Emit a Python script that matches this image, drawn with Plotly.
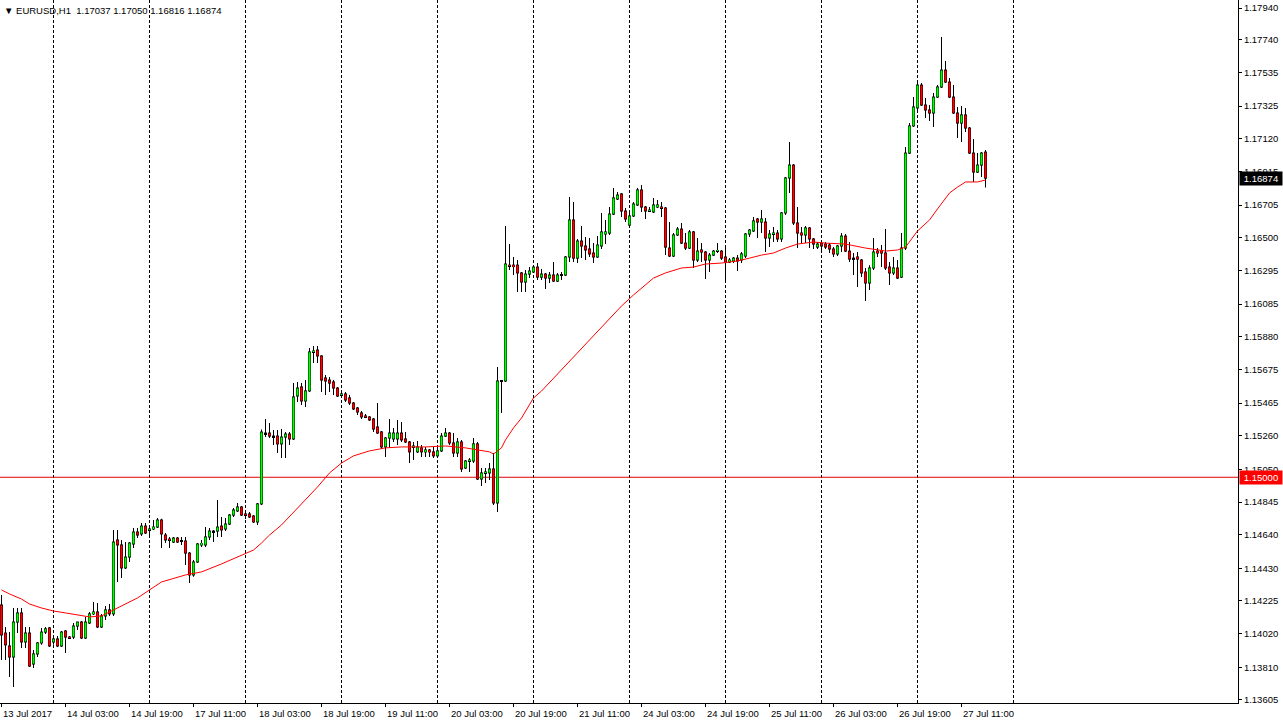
import plotly.graph_objects as go

# ---------------- data (EURUSD H1) ----------------
opens = [1.14200,1.14024,1.13943,1.13874,1.14093,1.14150,1.13968,1.14024,1.13830,1.13893,
1.13962,1.14030,1.14056,1.13968,1.13987,1.13943,1.14037,1.13999,1.13999,1.14068,
1.14093,1.13993,1.14087,1.14144,1.14156,1.14062,1.14131,1.14169,1.14144,1.14607,
1.14576,1.14432,1.14500,1.14582,1.14657,1.14645,1.14694,1.14670,1.14676,1.14688,
1.14732,1.14638,1.14613,1.14594,1.14619,1.14601,1.14601,1.14525,1.14388,1.14469,
1.14576,1.14576,1.14626,1.14663,1.14663,1.14694,1.14676,1.14707,1.14763,1.14789,
1.14814,1.14770,1.14770,1.14757,1.14720,1.14833,1.15277,1.15277,1.15258,1.15258,
1.15209,1.15252,1.15271,1.15240,1.15509,1.15566,1.15478,1.15541,1.15785,1.15797,
1.15760,1.15622,1.15609,1.15597,1.15559,1.15516,1.15522,1.15497,1.15465,1.15434,
1.15403,1.15384,1.15378,1.15365,1.15315,1.15284,1.15190,1.15246,1.15240,1.15240,
1.15277,1.15240,1.15221,1.15190,1.15159,1.15184,1.15159,1.15171,1.15159,1.15134,
1.15165,1.15258,1.15277,1.15215,1.15152,1.15221,1.15058,1.15102,1.15102,1.15209,
1.14989,1.15027,1.15027,1.15052,1.14839,1.15603,1.15603,1.16329,1.16329,1.16329,
1.16280,1.16223,1.16273,1.16286,1.16317,1.16254,1.16273,1.16248,1.16267,1.16229,
1.16267,1.16267,1.16380,1.16612,1.16373,1.16480,1.16449,1.16430,1.16405,1.16380,
1.16449,1.16524,1.16530,1.16649,1.16743,1.16775,1.16668,1.16580,1.16637,1.16706,
1.16800,1.16693,1.16668,1.16662,1.16693,1.16693,1.16687,1.16436,1.16386,1.16518,
1.16555,1.16467,1.16436,1.16537,1.16361,1.16424,1.16411,1.16361,1.16392,1.16417,
1.16417,1.16380,1.16348,1.16355,1.16373,1.16361,1.16386,1.16524,1.16543,1.16618,
1.16599,1.16599,1.16499,1.16524,1.16530,1.16493,1.16656,1.16875,1.16956,1.16593,
1.16530,1.16518,1.16562,1.16493,1.16442,1.16467,1.16461,1.16455,1.16430,1.16399,
1.16449,1.16511,1.16417,1.16373,1.16380,1.16361,1.16286,1.16217,1.16311,1.16417,
1.16417,1.16405,1.16317,1.16280,1.16311,1.16254,1.16436,1.17031,1.17201,1.17314,
1.17457,1.17332,1.17301,1.17282,1.17382,1.17445,1.17551,1.17476,1.17382,1.17282,
1.17219,1.17270,1.17188,1.17031,1.16912,1.16956,1.17037]

highs = [1.14263,1.14062,1.14030,1.14181,1.14181,1.14181,1.14062,1.14062,1.13918,1.13968,
1.14056,1.14062,1.14062,1.13999,1.14006,1.14037,1.14043,1.14006,1.14087,1.14093,
1.14100,1.14125,1.14156,1.14218,1.14212,1.14144,1.14193,1.14206,1.14670,1.14670,
1.14607,1.14594,1.14594,1.14682,1.14682,1.14713,1.14713,1.14701,1.14732,1.14745,
1.14740,1.14651,1.14626,1.14626,1.14626,1.14626,1.14626,1.14532,1.14482,1.14588,
1.14607,1.14688,1.14682,1.14670,1.14858,1.14751,1.14745,1.14770,1.14807,1.14839,
1.14820,1.14782,1.14782,1.14763,1.14839,1.15300,1.15365,1.15340,1.15296,1.15296,
1.15302,1.15284,1.15284,1.15590,1.15597,1.15590,1.15609,1.15810,1.15822,1.15822,
1.15765,1.15641,1.15628,1.15609,1.15566,1.15534,1.15534,1.15516,1.15472,1.15440,
1.15415,1.15396,1.15382,1.15371,1.15465,1.15290,1.15252,1.15365,1.15309,1.15359,
1.15346,1.15284,1.15227,1.15221,1.15227,1.15202,1.15190,1.15177,1.15190,1.15190,
1.15277,1.15309,1.15284,1.15277,1.15246,1.15234,1.15108,1.15121,1.15246,1.15221,
1.15058,1.15058,1.15089,1.15152,1.15691,1.15609,1.16574,1.16461,1.16380,1.16361,
1.16286,1.16298,1.16317,1.16323,1.16342,1.16304,1.16280,1.16286,1.16348,1.16280,
1.16286,1.16386,1.16756,1.16724,1.16493,1.16574,1.16505,1.16499,1.16467,1.16511,
1.16656,1.16612,1.16693,1.16812,1.16787,1.16781,1.16687,1.16656,1.16724,1.16812,
1.16831,1.16699,1.16693,1.16749,1.16737,1.16724,1.16693,1.16599,1.16530,1.16568,
1.16593,1.16530,1.16549,1.16543,1.16499,1.16467,1.16417,1.16405,1.16424,1.16467,
1.16424,1.16436,1.16373,1.16380,1.16392,1.16411,1.16530,1.16555,1.16631,1.16624,
1.16674,1.16624,1.16549,1.16568,1.16549,1.16662,1.16881,1.17101,1.16962,1.16693,
1.16568,1.16574,1.16568,1.16499,1.16474,1.16474,1.16474,1.16467,1.16442,1.16455,
1.16530,1.16524,1.16474,1.16405,1.16411,1.16367,1.16311,1.16329,1.16499,1.16436,
1.16455,1.16555,1.16348,1.16380,1.16361,1.16530,1.17069,1.17219,1.17382,1.17470,
1.17470,1.17376,1.17332,1.17407,1.17457,1.17758,1.17608,1.17501,1.17457,1.17320,
1.17326,1.17314,1.17194,1.17119,1.17031,1.17038,1.17050]

lows = [1.13855,1.13855,1.13749,1.13686,1.14024,1.13931,1.13931,1.13811,1.13805,1.13874,
1.13950,1.14018,1.13937,1.13950,1.13937,1.13937,1.13899,1.13993,1.13987,1.14043,
1.13987,1.13987,1.14081,1.14137,1.14056,1.14056,1.14106,1.14131,1.14131,1.14344,
1.14369,1.14426,1.14469,1.14557,1.14619,1.14632,1.14645,1.14638,1.14670,1.14682,
1.14557,1.14588,1.14557,1.14588,1.14588,1.14576,1.14451,1.14338,1.14376,1.14463,
1.14563,1.14563,1.14607,1.14594,1.14626,1.14626,1.14663,1.14701,1.14751,1.14782,
1.14757,1.14738,1.14745,1.14713,1.14701,1.14826,1.15252,1.15246,1.15202,1.15152,
1.15121,1.15121,1.15202,1.15234,1.15472,1.15453,1.15440,1.15534,1.15716,1.15716,
1.15534,1.15516,1.15534,1.15516,1.15503,1.15503,1.15472,1.15453,1.15421,1.15390,
1.15365,1.15371,1.15353,1.15284,1.15271,1.15177,1.15127,1.15184,1.15221,1.15202,
1.15221,1.15215,1.15089,1.15108,1.15152,1.15127,1.15127,1.15127,1.15121,1.15121,
1.15159,1.15252,1.15202,1.15127,1.15127,1.15033,1.15052,1.15033,1.15089,1.14983,
1.14946,1.14964,1.14983,1.14826,1.14782,1.15403,1.15597,1.16298,1.16267,1.16161,
1.16161,1.16161,1.16248,1.16280,1.16236,1.16236,1.16180,1.16217,1.16223,1.16223,
1.16236,1.16261,1.16348,1.16348,1.16342,1.16373,1.16361,1.16380,1.16342,1.16375,
1.16430,1.16461,1.16518,1.16643,1.16737,1.16631,1.16599,1.16568,1.16631,1.16699,
1.16662,1.16618,1.16662,1.16655,1.16687,1.16631,1.16392,1.16380,1.16380,1.16511,
1.16461,1.16424,1.16430,1.16311,1.16348,1.16348,1.16242,1.16286,1.16386,1.16405,
1.16361,1.16236,1.16342,1.16342,1.16292,1.16342,1.16373,1.16505,1.16537,1.16499,
1.16530,1.16411,1.16442,1.16474,1.16474,1.16474,1.16643,1.16781,1.16580,1.16436,
1.16467,1.16467,1.16436,1.16430,1.16430,1.16411,1.16430,1.16405,1.16380,1.16386,
1.16411,1.16411,1.16348,1.16267,1.16192,1.16254,1.16104,1.16173,1.16298,1.16380,
1.16317,1.16298,1.16204,1.16267,1.16242,1.16248,1.16424,1.17025,1.17194,1.17301,
1.17326,1.17251,1.17232,1.17194,1.17376,1.17439,1.17470,1.17376,1.17276,1.17126,
1.17101,1.17163,1.17025,1.16850,1.16906,1.16881,1.16816]

closes = [1.14012,1.13950,1.13874,1.14093,1.14150,1.13968,1.14024,1.13817,1.13893,1.13962,
1.14030,1.14050,1.13943,1.13987,1.13943,1.14030,1.13999,1.13995,1.14068,1.14093,
1.13993,1.14093,1.14144,1.14156,1.14062,1.14131,1.14169,1.14144,1.14594,1.14576,
1.14432,1.14500,1.14588,1.14657,1.14638,1.14694,1.14651,1.14676,1.14688,1.14732,
1.14645,1.14607,1.14607,1.14619,1.14594,1.14598,1.14525,1.14388,1.14469,1.14582,
1.14585,1.14626,1.14663,1.14660,1.14688,1.14670,1.14707,1.14763,1.14795,1.14814,
1.14763,1.14765,1.14751,1.14720,1.14833,1.15283,1.15274,1.15258,1.15255,1.15209,
1.15252,1.15271,1.15240,1.15503,1.15559,1.15478,1.15541,1.15785,1.15791,1.15760,
1.15609,1.15603,1.15590,1.15559,1.15509,1.15522,1.15484,1.15465,1.15428,1.15409,
1.15378,1.15380,1.15359,1.15302,1.15277,1.15190,1.15246,1.15277,1.15277,1.15277,
1.15234,1.15221,1.15159,1.15196,1.15190,1.15159,1.15171,1.15159,1.15134,1.15165,
1.15258,1.15277,1.15215,1.15152,1.15221,1.15052,1.15102,1.15108,1.15209,1.14989,
1.15027,1.15033,1.15052,1.14839,1.15603,1.15600,1.16336,1.16323,1.16320,1.16280,
1.16223,1.16273,1.16292,1.16317,1.16254,1.16273,1.16248,1.16267,1.16229,1.16267,
1.16270,1.16380,1.16612,1.16373,1.16480,1.16449,1.16424,1.16399,1.16380,1.16455,
1.16537,1.16537,1.16649,1.16750,1.16768,1.16668,1.16618,1.16637,1.16712,1.16800,
1.16693,1.16668,1.16674,1.16706,1.16706,1.16687,1.16442,1.16386,1.16518,1.16555,
1.16467,1.16436,1.16537,1.16361,1.16417,1.16411,1.16361,1.16392,1.16417,1.16421,
1.16373,1.16348,1.16361,1.16373,1.16355,1.16399,1.16524,1.16549,1.16606,1.16599,
1.16618,1.16499,1.16524,1.16530,1.16493,1.16656,1.16875,1.16956,1.16593,1.16530,
1.16518,1.16562,1.16493,1.16461,1.16461,1.16449,1.16442,1.16430,1.16399,1.16449,
1.16511,1.16417,1.16367,1.16370,1.16367,1.16280,1.16217,1.16311,1.16411,1.16405,
1.16405,1.16311,1.16280,1.16311,1.16248,1.16436,1.17031,1.17201,1.17320,1.17457,
1.17332,1.17301,1.17282,1.17382,1.17445,1.17551,1.17476,1.17382,1.17282,1.17219,
1.17270,1.17188,1.17031,1.16912,1.16956,1.17031,1.16874]

# moving average (red line), read at selected bars
ma_bar = [0,2,5,7,10,13,16,20,22,25,28,31,34,37,40,46,50,55,60,63,65,67,70,73,76,79,82,85,88,92,
          96,100,106,111,116,119,122,123,125,126,128,130,133,135,140,145,150,155,158,160,163,166,
          170,173,176,180,184,187,190,193,196,199,203,206,211,216,221,224,226,229,232,234,237,
          239,241,244,246]
ma_val = [1.14294,1.14269,1.14237,1.14206,1.14181,1.14162,1.14150,1.14131,1.14125,1.14131,
          1.14169,1.14206,1.14244,1.14294,1.14344,1.14388,1.14407,1.14457,1.14513,1.14544,
          1.14588,1.14638,1.14701,1.14782,1.14858,1.14939,1.15027,1.15089,1.15134,1.15165,
          1.15184,1.15190,1.15190,1.15196,1.15184,1.15171,1.15159,1.15146,1.15184,1.15234,
          1.15309,1.15371,1.15497,1.15540,1.15672,1.15804,1.15935,1.16073,1.16142,1.16186,
          1.16248,1.16280,1.16311,1.16317,1.16336,1.16342,1.16355,1.16373,1.16392,1.16405,
          1.16436,1.16461,1.16474,1.16467,1.16461,1.16436,1.16417,1.16424,1.16442,1.16543,
          1.16612,1.16681,1.16781,1.16818,1.16850,1.16850,1.16862]

day_start_bar = [13, 37, 61, 85, 109, 133, 157, 181, 205, 229, 253]
time_label_bar = [0, 16, 32, 48, 64, 80, 96, 112, 128, 144, 160, 176, 192, 208, 224, 240]
time_labels = ["13 Jul 2017", "14 Jul 03:00", "14 Jul 19:00", "17 Jul 11:00", "18 Jul 03:00",
               "18 Jul 19:00", "19 Jul 11:00", "20 Jul 03:00", "20 Jul 19:00", "21 Jul 11:00",
               "24 Jul 03:00", "24 Jul 19:00", "25 Jul 11:00", "26 Jul 03:00", "26 Jul 19:00",
               "27 Jul 11:00"]
price_ticks = [1.17940, 1.17740, 1.17535, 1.17325, 1.17120, 1.16915, 1.16705, 1.16500, 1.16295,
               1.16085, 1.15880, 1.15675, 1.15465, 1.15260, 1.15050, 1.14845, 1.14640, 1.14430,
               1.14225, 1.14020, 1.13810, 1.13605]
level_line = 1.15000
header = "EURUSD,H1  1.17037 1.17050 1.16816 1.16874"

# ---------------- figure ----------------
FONT = "Liberation Sans"
UP, DOWN = "#00ff00", "#ff0000"
Y_RANGE = [1.135857, 1.179901]
PLOT_H = 703
PX = (Y_RANGE[1] - Y_RANGE[0]) / PLOT_H   # price per screen pixel (style constant)

n = len(closes)
bars = list(range(n))

wick_len = [highs[i] - lows[i] for i in bars]
# body outline (black) and coloured inner body, inset by about half a pixel each side
out_base = [min(opens[i], closes[i]) - 0.5 * PX for i in bars]
out_len = [abs(closes[i] - opens[i]) + PX for i in bars]
in_base = [min(opens[i], closes[i]) + 0.3 * PX for i in bars]
in_len = [max(abs(closes[i] - opens[i]) - 0.6 * PX, 0) for i in bars]
in_col = [UP if closes[i] >= opens[i] else DOWN for i in bars]

fig = go.Figure()
# all candle parts live in the bar layer, drawn in this order
fig.add_trace(go.Bar(x=bars, y=wick_len, base=lows, width=0.25,
                     marker=dict(color="black", line=dict(width=0)),
                     showlegend=False, hoverinfo="skip"))
fig.add_trace(go.Bar(x=bars, y=out_len, base=out_base, width=0.75,
                     marker=dict(color="black", line=dict(width=0)),
                     showlegend=False, hoverinfo="skip"))
fig.add_trace(go.Bar(x=bars, y=in_len, base=in_base, width=0.5,
                     marker=dict(color=in_col, line=dict(width=0)),
                     showlegend=False, hoverinfo="skip"))
fig.add_trace(go.Scatter(x=ma_bar, y=ma_val, mode="lines",
                         line=dict(color="#ff0000", width=1), showlegend=False, hoverinfo="skip"))

shapes = []
for b in day_start_bar:
    shapes.append(dict(type="line", xref="x", yref="paper", x0=b, x1=b, y0=0, y1=1,
                       line=dict(color="black", width=1, dash="3px,2px"), layer="below"))
shapes.append(dict(type="line", xref="paper", yref="y", x0=0, x1=1, y0=level_line, y1=level_line,
                   line=dict(color="#e00000", width=1), layer="below"))

annotations = []
for b, t in zip(time_label_bar, time_labels):
    annotations.append(dict(x=b, y=0, xref="x", yref="paper", text=t, showarrow=False,
                            xanchor="left", yanchor="top", xshift=-1, yshift=-3,
                            font=dict(family=FONT, size=9.5, color="black")))
annotations.append(dict(x=0, y=1, xref="paper", yref="paper", text="▼ " + header,
                        showarrow=False, xanchor="left", yanchor="top", xshift=2, yshift=-3,
                        font=dict(family=FONT, size=9.5, color="black")))
annotations.append(dict(x=1, y=closes[-1], xref="paper", yref="y", text=f"{closes[-1]:.5f}",
                        showarrow=False, xanchor="left", yanchor="middle", xshift=1,
                        bgcolor="black", borderpad=1, width=40,
                        font=dict(family=FONT, size=9.5, color="white")))
annotations.append(dict(x=1, y=level_line, xref="paper", yref="y", text=f"{level_line:.5f}",
                        showarrow=False, xanchor="left", yanchor="middle", xshift=1,
                        bgcolor="#ff0000", borderpad=1, width=40,
                        font=dict(family=FONT, size=9.5, color="white")))

fig.update_layout(
    width=1283, height=724,
    margin=dict(l=0, r=45, t=0, b=21, pad=0, autoexpand=False),
    paper_bgcolor="white", plot_bgcolor="white",
    shapes=shapes, annotations=annotations,
    barmode="overlay", bargap=0.0001, bargroupgap=0,
    xaxis=dict(range=[-0.375, 309.125], showgrid=False,
               zeroline=False, showline=True, linecolor="black", linewidth=1, automargin=False,
               tickvals=time_label_bar, ticktext=[""] * len(time_label_bar),
               ticks="outside", ticklen=3, tickcolor="black"),
    yaxis=dict(range=Y_RANGE, side="right", showgrid=False, zeroline=False,
               showline=True, linecolor="black", linewidth=1, automargin=False,
               tickvals=price_ticks, ticktext=[f"{p:.5f}" for p in price_ticks],
               ticks="outside", ticklen=3, tickcolor="black",
               tickfont=dict(family=FONT, size=9.5, color="black")),
)

fig.write_html("out.html", config={"displayModeBar": False},
               post_script="document.body.style.margin='0px';")
